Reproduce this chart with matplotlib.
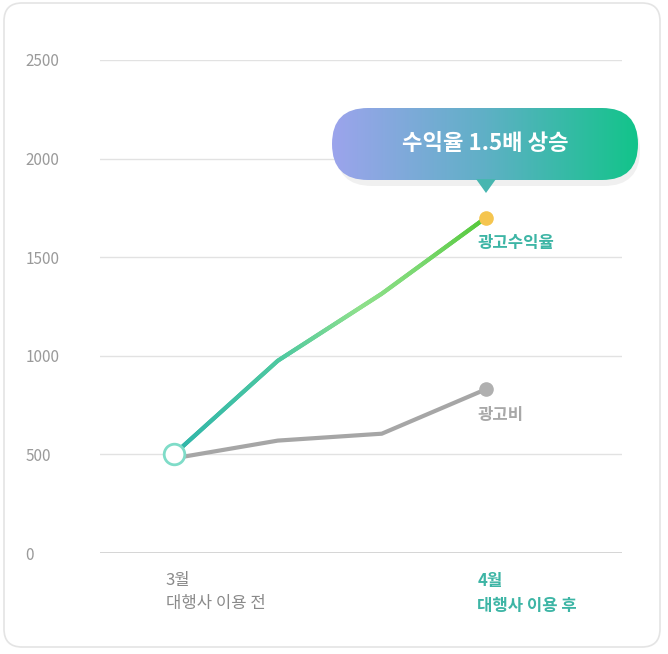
import numpy as np
import matplotlib.pyplot as plt
from matplotlib.patches import FancyBboxPatch, Polygon
from matplotlib.collections import LineCollection
from matplotlib.colors import to_rgb, LinearSegmentedColormap

plt.rcParams["font.family"] = "Noto Sans CJK KR"

# data
steps = [0, 1, 2, 3]
revenue = [500, 975, 1315, 1700]
ad_cost = [480, 570, 605, 830]
yticks = [0, 500, 1000, 1500, 2000, 2500]
x_labels = ["3월\n대행사 이용 전", "4월\n대행사 이용 후"]
callout_text = "수익율 1.5배 상승"

fig = plt.figure(figsize=(6.68, 6.54), dpi=100)

# card background (pixel coords overlay)
bg = fig.add_axes([0, 0, 1, 1], zorder=0)
bg.set_xlim(0, 668)
bg.set_ylim(654, 0)
bg.axis("off")
bg.add_patch(FancyBboxPatch((4, 3), 656, 644, boxstyle="round,pad=0,rounding_size=18",
                            fc="white", ec="#e4e4e4", lw=1.2))

ax = fig.add_axes([100 / 668, 101 / 654, 522 / 668, 493 / 654], zorder=1)
ax.patch.set_alpha(0)
ax.set_xlim(-0.71, 4.31)
ax.set_ylim(0, 2500)
for s in ax.spines.values():
    s.set_visible(False)
ax.set_yticks(yticks)
ax.set_yticklabels([str(v) for v in yticks], color="#9a9a9a", fontsize=11)
ax.tick_params(axis="y", length=0, pad=20)
ax.yaxis.set_tick_params(labelleft=True)
for lbl in ax.get_yticklabels():
    lbl.set_horizontalalignment("left")
    lbl.set_x(-0.09)
ax.set_xticks([])
ax.grid(axis="y", color="#e2e2e2", lw=1)
ax.axhline(0, color="#d0d0d0", lw=1.2)

# gray line
ax.plot(steps, ad_cost, color="#a6a6a6", lw=3, solid_capstyle="round", zorder=3)
ax.scatter([steps[-1]], [ad_cost[-1]], s=90, color="#b0b0b0", zorder=5)

# gradient green line
xs = np.interp(np.linspace(0, 3, 300), steps, steps)
ys = np.interp(xs, steps, revenue)
pts = np.array([xs, ys]).T.reshape(-1, 1, 2)
segs = np.concatenate([pts[:-1], pts[1:]], axis=1)
cmap = LinearSegmentedColormap.from_list(
    "g", [(0, "#2fb5aa"), (0.35, "#4fc9a0"), (0.6, "#8fe08c"), (0.8, "#7ad870"), (1, "#55c83a")])
lc = LineCollection(segs, colors=cmap(np.linspace(0, 1, len(segs))), lw=3, capstyle="round", zorder=4)
ax.add_collection(lc)
ax.scatter([steps[-1]], [revenue[-1]], s=90, color="#f5c54f", zorder=5)
ax.scatter([steps[0]], [revenue[0]], s=220, facecolor="white", edgecolor="#7fdcc8", lw=2, zorder=6)

ax.text(2.92, 1570, "광고수익율", color="#3db5a5", fontsize=12, fontweight="bold", va="center")
ax.text(2.92, 700, "광고비", color="#a8a8a8", fontsize=12, fontweight="bold", va="center")

ax.text(-0.08, -95, x_labels[0], color="#8a8a8a", fontsize=12, va="top", ha="left", linespacing=1.5)
ax.text(2.92, -95, x_labels[1], color="#3db5a5", fontsize=12, fontweight="bold", va="top", ha="left",
        linespacing=1.5)

# callout
ov = fig.add_axes([0, 0, 1, 1], zorder=3)
ov.set_xlim(0, 668)
ov.set_ylim(654, 0)
ov.axis("off")
shadow = FancyBboxPatch((336, 114), 304, 72, boxstyle="round,pad=0,rounding_size=36",
                        fc="#000000", alpha=0.06, ec="none")
ov.add_patch(shadow)
box = FancyBboxPatch((332, 108), 306, 72, boxstyle="round,pad=0,rounding_size=36",
                     fc="none", ec="none")
ov.add_patch(box)
grad = np.linspace(0, 1, 256).reshape(1, -1)
ccmap = LinearSegmentedColormap.from_list("c", ["#9ca4ec", "#5fb0c6", "#12c48a"])
im = ov.imshow(grad, cmap=ccmap, extent=(332, 638, 196, 108), aspect="auto", zorder=2)
im.set_clip_path(box)
tri = Polygon([(476, 179), (496, 179), (486, 193)], closed=True, fc="#47b6b0", ec="none", zorder=2)
ov.add_patch(tri)
ov.text(485, 144, callout_text, color="white", fontsize=16, fontweight="bold",
        ha="center", va="center", zorder=3)
ov.set_xlim(0, 668)
ov.set_ylim(654, 0)

fig.savefig("out.png", dpi=100)
